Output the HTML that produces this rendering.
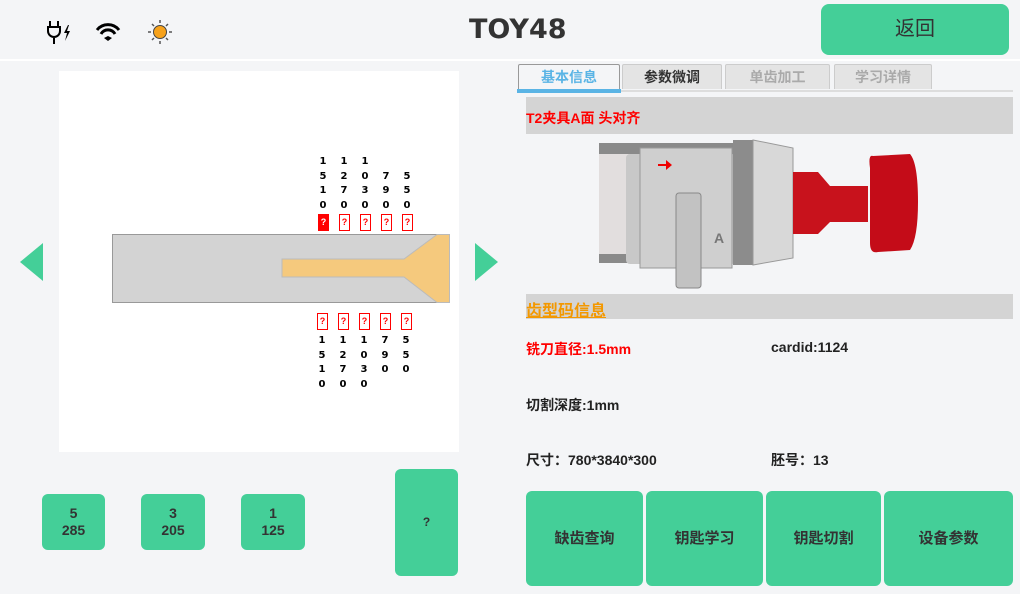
<!DOCTYPE html>
<html><head><meta charset="utf-8"><style>
*{margin:0;padding:0;box-sizing:border-box}
body{width:1020px;height:594px;background:#f4f5f7;position:relative;overflow:hidden;font-family:"Liberation Sans","Noto Sans CJK SC",sans-serif}
.a{position:absolute}
.hdr{left:0;top:0;width:1020px;height:61px;background:#f4f5f7;border-bottom:2px solid #fff}
.btn{position:absolute;background:#44cf98;border-radius:6px;color:#333;font-weight:bold;display:flex;align-items:center;justify-content:center;text-align:center;font-size:14px;line-height:17px}
.d{position:absolute;font-size:10px;font-weight:bold;line-height:14.5px;width:10px;text-align:center;color:#000;font-family:"DejaVu Sans",sans-serif}
.q{position:absolute;width:11px;height:17px;border:1.5px solid #f00;color:#f00;font-size:9px;font-weight:bold;text-align:center;line-height:14px}
.tab{position:absolute;top:64px;height:25px;background:#e4e4e4;border:1px solid #ccc;border-bottom:none;font-size:14px;font-weight:bold;color:#aaa;text-align:center;line-height:24px;border-radius:2px 2px 0 0}
.t{position:absolute;font-size:14px;font-weight:bold;color:#222}
</style></head><body>
<div class="a hdr"></div>
<svg class="a" style="left:44px;top:18px" width="140" height="30" viewBox="0 0 140 30">
<g stroke="#000" stroke-width="2" fill="none"><path d="M6 3v6M14 3v6M3 9h14M4 9v4a6 6 0 0 0 12 0V9M10 19v7"/></g>
<path d="M24 7l-4 8h3l-2 8 5-10h-3l2-6z" fill="#000"/>
<path d="M53 12a14 14 0 0 1 22 0M57 16a8 8 0 0 1 14 0" stroke="#000" stroke-width="3" fill="none"/><path d="M60 20l4 -2 4 2-4 3z" fill="#000"/>
<circle cx="116" cy="14" r="6.5" fill="#f7a21b" stroke="#444" stroke-width="1"/>
<g stroke="#555" stroke-width="1.5"><path d="M116 2v3M116 23v3M104 14h3M125 14h3M108 6l2 2M122 20l2 2M124 6l-2 2M108 22l2-2"/></g>
</svg>
<div class="a" style="left:469px;top:14px;font-size:27px;font-weight:bold;color:#333;font-family:'DejaVu Sans',sans-serif">TOY48</div>
<div class="btn" style="left:821px;top:4px;width:188px;height:51px;font-size:20px;font-weight:normal;border-radius:8px">返回</div>

<div class="a" style="left:59px;top:71px;width:400px;height:381px;background:#fff"></div>
<svg class="a" style="left:0;top:0" width="510" height="460">
<rect x="112.5" y="234.5" width="337" height="68" fill="#d3d3d3" stroke="#999"/>
<path d="M449.5 234.5H437L404 259H282V277H404L437 302.5H449.5Z" fill="#f5c97d" stroke="#bbb"/>
<path d="M20 262L43 243V281Z" fill="#44cf98"/>
<path d="M498 262L475 243V281Z" fill="#44cf98"/>
</svg>
<div class="d" style="left:318px;top:155px">1<br>5<br>1<br>0</div>
<div class="d" style="left:339px;top:155px">1<br>2<br>7<br>0</div>
<div class="d" style="left:360px;top:155px">1<br>0<br>3<br>0</div>
<div class="d" style="left:381px;top:169.5px">7<br>9<br>0</div>
<div class="d" style="left:402px;top:169.5px">5<br>5<br>0</div>
<div class="q" style="left:318px;top:214px;background:#f00;color:#fff">?</div>
<div class="q" style="left:339px;top:214px">?</div>
<div class="q" style="left:360px;top:214px">?</div>
<div class="q" style="left:381px;top:214px">?</div>
<div class="q" style="left:402px;top:214px">?</div>
<div class="q" style="left:317px;top:313px">?</div>
<div class="q" style="left:338px;top:313px">?</div>
<div class="q" style="left:359px;top:313px">?</div>
<div class="q" style="left:380px;top:313px">?</div>
<div class="q" style="left:401px;top:313px">?</div>
<div class="d" style="left:317px;top:334px">1<br>5<br>1<br>0</div>
<div class="d" style="left:338px;top:334px">1<br>2<br>7<br>0</div>
<div class="d" style="left:359px;top:334px">1<br>0<br>3<br>0</div>
<div class="d" style="left:380px;top:334px">7<br>9<br>0</div>
<div class="d" style="left:401px;top:334px">5<br>5<br>0</div>

<div class="btn" style="left:42px;top:494px;width:63px;height:56px">5<br>285</div>
<div class="btn" style="left:141px;top:494px;width:64px;height:56px">3<br>205</div>
<div class="btn" style="left:241px;top:494px;width:64px;height:56px">1<br>125</div>
<div class="btn" style="left:395px;top:469px;width:63px;height:107px;font-size:12px">?</div>

<div class="tab" style="left:518px;width:102px;background:#f4f5f7;color:#5ab4e5;border-color:#999">基本信息</div>
<div class="tab" style="left:622px;width:100px;color:#333">参数微调</div>
<div class="tab" style="left:725px;width:105px">单齿加工</div>
<div class="tab" style="left:834px;width:98px">学习详情</div>
<div class="a" style="left:517px;top:89px;width:104px;height:4px;background:#5ab4e5"></div>
<div class="a" style="left:621px;top:90px;width:392px;height:2px;background:#ddd"></div>
<div class="a" style="left:526px;top:97px;width:487px;height:37px;background:#d4d4d4"></div>
<div class="t" style="left:526px;top:108px;color:#f00">T2夹具A面 头对齐</div>
<svg class="a" style="left:598px;top:138px" width="325" height="155">
<rect x="1" y="5" width="134" height="120" fill="#8a8a8a"/>
<rect x="1" y="16" width="40" height="100" fill="#e2dede"/>
<rect x="28" y="16" width="110" height="110" rx="4" fill="#c8c8c8"/>
<rect x="42" y="10" width="92" height="120" fill="#cfcfcf" stroke="#999"/>
<rect x="78" y="55" width="25" height="95" rx="3" fill="#c2c2c2" stroke="#888"/>
<path d="M60 26h8v-4l6 5-6 5v-4h-8z" fill="#e00"/>
<text x="116" y="105" font-size="14" font-weight="bold" fill="#777" font-family="Liberation Sans">A</text>
<rect x="135" y="2" width="20" height="125" fill="#8c8c8c"/>
<path d="M155 2L195 10V120L155 127Z" fill="#d8d8d8" stroke="#999"/>
<path d="M195 34H220L232 48H270V84H232L220 96H195Z" fill="#c8121c"/>
<path d="M275 18Q270 16 272 30V105Q272 116 280 114L312 112Q320 100 320 64Q320 25 312 16Z" fill="#c40c18"/>
</svg>
<div class="a" style="left:526px;top:294px;width:487px;height:25px;background:#d4d4d4"></div>
<div class="t" style="left:526px;top:297px;color:#f39800;font-size:16px;text-decoration:underline">齿型码信息</div>
<div class="t" style="left:526px;top:339px;color:#f00">铣刀直径:1.5mm</div>
<div class="t" style="left:771px;top:339px">cardid:1124</div>
<div class="t" style="left:526px;top:395px">切割深度:1mm</div>
<div class="t" style="left:526px;top:450px">尺寸：780*3840*300</div>
<div class="t" style="left:771px;top:450px">胚号：13</div>
<div class="btn" style="left:526px;top:491px;width:117px;height:95px;font-size:15px">缺齿查询</div>
<div class="btn" style="left:646px;top:491px;width:117px;height:95px;font-size:15px">钥匙学习</div>
<div class="btn" style="left:766px;top:491px;width:115px;height:95px;font-size:15px">钥匙切割</div>
<div class="btn" style="left:884px;top:491px;width:129px;height:95px;font-size:15px">设备参数</div>
</body></html>
